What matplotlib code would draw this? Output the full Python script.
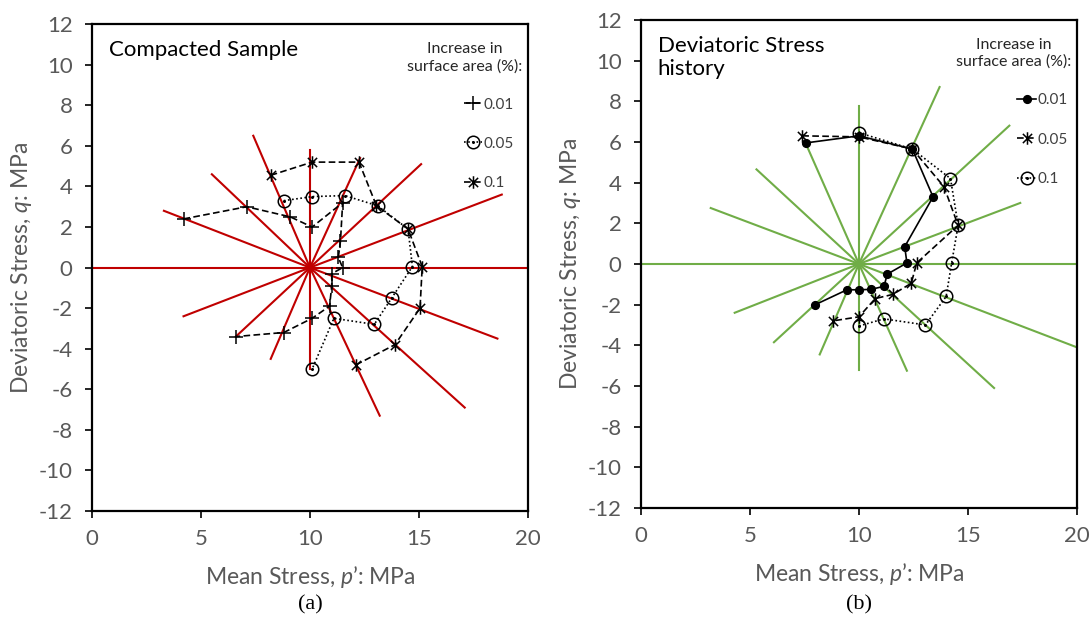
import matplotlib
matplotlib.use('Agg')
import matplotlib.pyplot as plt
from matplotlib.path import Path

# stress paths in the p'-q plane, two samples

# centre of the loading rays
center_p = 10.0
center_q = 0.0

# (a) compacted sample: end points of the loading rays
a_ray_p = [0.0, 3.3, 5.5, 7.4, 10.0, 12.3, 15.1, 18.8, 20.0, 18.6, 17.1, 13.2, 10.0, 8.2, 6.6, 4.2]
a_ray_q = [0.0, 2.8, 4.6, 6.5, 5.8, 5.4, 5.1, 3.6, 0.0, -3.5, -6.9, -7.3, -5.0, -4.5, -3.4, -2.4]

# (a) increase in surface area 0.01 %
a_p_001 = [4.2, 7.1, 9.1, 10.1, 11.5, 11.4, 11.3, 11.5, 11.0, 11.0, 10.9, 10.1, 8.8, 6.6]
a_q_001 = [2.4, 3.0, 2.5, 2.0, 3.2, 1.3, 0.5, 0.0, -0.3, -0.9, -1.9, -2.5, -3.2, -3.4]
# (a) 0.05 %
a_p_005 = [8.8, 10.1, 11.6, 13.1, 14.5, 14.7, 13.75, 12.95, 11.1, 10.1]
a_q_005 = [3.3, 3.5, 3.55, 3.05, 1.9, 0.05, -1.5, -2.8, -2.5, -5.0]
# (a) 0.1 %
a_p_01 = [8.2, 10.1, 12.25, 13.05, 14.5, 15.15, 15.05, 13.9, 12.1]
a_q_01 = [4.55, 5.2, 5.2, 3.05, 1.9, 0.05, -2.0, -3.8, -4.8]

# (b) deviatoric stress history: loading rays
b_ray_p = [0.0, 3.2, 5.3, 7.55, 10.0, 13.7, 16.9, 17.4, 20.0, 20.0, 16.2, 12.2, 10.0, 8.2, 6.1, 4.3]
b_ray_q = [0.0, 2.75, 4.65, 5.95, 7.75, 8.7, 6.8, 3.0, 0.0, -4.1, -6.1, -5.25, -5.2, -4.45, -3.85, -2.4]

# (b) 0.01 %
b_p_001 = [7.55, 10.0, 12.45, 13.4, 12.1, 12.2, 11.3, 11.15, 10.55, 10.0, 9.45, 8.0]
b_q_001 = [5.95, 6.3, 5.65, 3.3, 0.85, 0.05, -0.5, -1.1, -1.25, -1.27, -1.27, -2.0]
# (b) 0.05 %
b_p_005 = [7.4, 10.0, 12.45, 13.9, 14.55, 12.65, 12.4, 11.55, 10.75, 10.0, 8.8]
b_q_005 = [6.3, 6.25, 5.65, 3.8, 1.9, 0.05, -0.95, -1.5, -1.7, -2.6, -2.8]
# (b) 0.1 %
b_p_01 = [10.0, 12.45, 14.2, 14.55, 14.25, 14.0, 13.05, 11.15, 10.0]
b_q_01 = [6.45, 5.65, 4.2, 1.9, 0.03, -1.6, -3.0, -2.7, -3.05]

x_ticks = [0, 5, 10, 15, 20]
y_ticks = list(range(-12, 13, 2))

plt.rcParams['font.family'] = ['Lato', 'DejaVu Sans']
plt.rcParams['mathtext.fontset'] = 'custom'
plt.rcParams['mathtext.rm'] = 'Lato'
plt.rcParams['mathtext.it'] = 'Lato:italic'
plt.rcParams['axes.unicode_minus'] = False

GREY = '#595959'

# asterisk = x with a vertical bar, ring with a dot in the middle
star = Path([(-1, -1), (1, 1), (-1, 1), (1, -1), (0, -1.35), (0, 1.35)],
            [Path.MOVETO, Path.LINETO] * 3)
ring_dot = Path.make_compound_path(Path.unit_circle(), Path.circle((0, 0), 0.12))


def draw_panel(ax, ray_p, ray_q, ray_color, series, title, legend_x, tag, tag_x):
    # loading rays out of the centre point
    for p, q in zip(ray_p, ray_q):
        ax.plot([center_p, p], [center_q, q], color=ray_color, lw=1.5, zorder=1)

    handles = []
    for p, q, label, ls, marker, ms, mfc in series:
        line, = ax.plot(p, q, color='black', lw=1.2, ls=ls, marker=marker, ms=ms,
                        mfc=mfc, mec='black', mew=1.1, label=label, zorder=3)
        handles.append(line)

    ax.set_xlim(0, 20)
    ax.set_ylim(-12, 12)
    ax.set_xticks(x_ticks)
    ax.set_yticks(y_ticks)
    ax.tick_params(labelsize=16, labelcolor=GREY, direction='out', length=5, width=1.2)
    ax.tick_params(axis='x', pad=8)
    ax.tick_params(axis='y', pad=9)
    for s in ax.spines.values():
        s.set_linewidth(1.6)
    ax.set_xlabel('Mean Stress, $p$\u2019: MPa', fontsize=16.5, color=GREY, labelpad=11)
    ax.set_ylabel('Deviatoric Stress, $q$: MPa', fontsize=16.5, color=GREY, labelpad=3)

    ax.text(0.038, 0.967, title, transform=ax.transAxes, fontsize=16, va='top', ha='left',
            linespacing=1.2)
    ax.text(0.855, 0.963, 'Increase in\nsurface area (%):', transform=ax.transAxes,
            fontsize=11.5, va='top', ha='center', color='#262626', linespacing=1.25)
    ax.legend(handles=handles, loc='upper left', bbox_to_anchor=(legend_x, 0.865), frameon=False,
              fontsize=11, labelcolor='#404040', handlelength=1.2, handletextpad=0.1,
              labelspacing=1.65, borderpad=0)
    plt.gcf().text(tag_x, 0.012, tag, family='Liberation Serif', fontsize=16, ha='center')


fig = plt.figure(figsize=(10.91, 6.17), dpi=100)
ax1 = fig.add_axes([0.0843, 0.1718, 0.3996, 0.789])
ax2 = fig.add_axes([0.5875, 0.1767, 0.3996, 0.791])

draw_panel(ax1, a_ray_p, a_ray_q, '#C00000',
           [(a_p_001, a_q_001, '0.01', (0, (4, 2)), '+', 10, 'none'),
            (a_p_005, a_q_005, '0.05', (0, (1, 1.5)), ring_dot, 9, 'none'),
            (a_p_01, a_q_01, '0.1', (0, (4, 2)), star, 9, 'none')],
           'Compacted Sample', 0.836, '(a)', 0.2843)
draw_panel(ax2, b_ray_p, b_ray_q, '#70AD47',
           [(b_p_001, b_q_001, '0.01', '-', 'o', 5.5, 'black'),
            (b_p_005, b_q_005, '0.05', (0, (4, 2)), star, 9, 'none'),
            (b_p_01, b_q_01, '0.1', (0, (1, 1.5)), ring_dot, 9, 'none')],
           'Deviatoric Stress\nhistory', 0.846, '(b)', 0.787)

fig.savefig('out.png', dpi=100)
